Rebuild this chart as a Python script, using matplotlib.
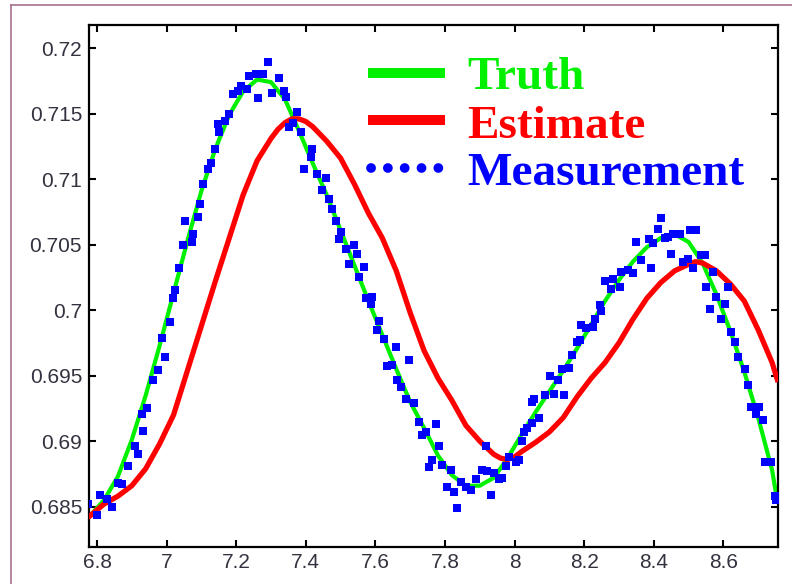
import matplotlib
matplotlib.use("Agg")
import matplotlib.pyplot as plt
from matplotlib.lines import Line2D

# ---- data ----
truth_x = [6.78, 6.82, 6.86, 6.90, 6.94, 6.98, 7.02, 7.06, 7.10, 7.14,
           7.18, 7.22, 7.26, 7.30, 7.34, 7.38, 7.42, 7.46, 7.50, 7.54,
           7.58, 7.62, 7.66, 7.70, 7.74, 7.78, 7.82, 7.86, 7.90, 7.94,
           7.98, 8.02, 8.06, 8.10, 8.14, 8.18, 8.22, 8.26, 8.30, 8.34,
           8.38, 8.42, 8.46, 8.50, 8.54, 8.58, 8.62, 8.66, 8.70, 8.74, 8.755]
truth_y = [0.6843, 0.6855, 0.6873, 0.6901, 0.6935, 0.6973, 0.7013, 0.7053, 0.7091, 0.7123,
           0.7149, 0.7167, 0.7176, 0.7174, 0.7161, 0.7137, 0.7112, 0.7088, 0.7061, 0.7034,
           0.7007, 0.6981, 0.6955, 0.6930, 0.6910, 0.6889, 0.6874, 0.6866, 0.6866, 0.6872,
           0.6887, 0.6905, 0.6922, 0.6938, 0.6954, 0.6971, 0.6989, 0.7007, 0.7023, 0.7037,
           0.7048, 0.7055, 0.7058, 0.7052, 0.7036, 0.7012, 0.6984, 0.6953, 0.6918, 0.6878, 0.6854]

est_x = [6.78, 6.82, 6.86, 6.90, 6.94, 6.98, 7.02, 7.06, 7.10, 7.14,
         7.18, 7.22, 7.26, 7.30, 7.32, 7.34, 7.36, 7.38, 7.40, 7.42,
         7.46, 7.50, 7.54, 7.58, 7.62, 7.66, 7.70, 7.74, 7.78, 7.82,
         7.86, 7.90, 7.94, 7.96, 7.98, 8.00, 8.02, 8.06, 8.10, 8.14,
         8.18, 8.22, 8.26, 8.30, 8.34, 8.38, 8.42, 8.46, 8.50, 8.52,
         8.54, 8.58, 8.62, 8.66, 8.70, 8.74, 8.755]
est_y = [0.6843, 0.6852, 0.6858, 0.6866, 0.6879, 0.6898, 0.6920, 0.6954, 0.6988, 0.7022,
         0.7055, 0.7088, 0.7114, 0.7131, 0.7138, 0.7143, 0.7146, 0.7146, 0.7144, 0.7140,
         0.7129, 0.7116, 0.7096, 0.7074, 0.7055, 0.7030, 0.6998, 0.6969, 0.6948, 0.6931,
         0.6912, 0.6900, 0.6890, 0.6887, 0.6886, 0.6888, 0.6892, 0.6899, 0.6907, 0.6918,
         0.6934, 0.6948, 0.6960, 0.6975, 0.6993, 0.7009, 0.7021, 0.7030, 0.7035, 0.7037,
         0.7036, 0.7030, 0.7020, 0.7007, 0.6985, 0.6960, 0.6947]

meas_x = [6.774, 6.800, 6.809, 6.829, 6.843, 6.860, 6.872, 6.889, 6.909, 6.917,
          6.929, 6.932, 6.943, 6.960, 6.975, 6.986, 6.995, 7.009, 7.018, 7.023,
          7.037, 7.046, 7.052, 7.072, 7.075, 7.089, 7.095, 7.104, 7.118, 7.129,
          7.138, 7.147, 7.152, 7.167, 7.178, 7.190, 7.204, 7.215, 7.230, 7.238,
          7.258, 7.262, 7.276, 7.290, 7.304, 7.324, 7.338, 7.344, 7.353, 7.362,
          7.376, 7.387, 7.396, 7.415, 7.419, 7.433, 7.448, 7.459, 7.468, 7.476,
          7.487, 7.496, 7.501, 7.516, 7.525, 7.539, 7.548, 7.553, 7.568, 7.574,
          7.588, 7.591, 7.605, 7.611, 7.625, 7.634, 7.648, 7.660, 7.662, 7.674,
          7.688, 7.697, 7.711, 7.725, 7.734, 7.745, 7.754, 7.763, 7.774, 7.783,
          7.791, 7.807, 7.817, 7.826, 7.835, 7.845, 7.860, 7.874, 7.888, 7.906,
          7.917, 7.920, 7.931, 7.940, 7.955, 7.964, 7.975, 7.983, 8.003, 8.012,
          8.020, 8.026, 8.035, 8.049, 8.049, 8.055, 8.069, 8.086, 8.103, 8.112,
          8.126, 8.135, 8.141, 8.155, 8.164, 8.178, 8.189, 8.192, 8.206, 8.226,
          8.232, 8.246, 8.249, 8.261, 8.278, 8.284, 8.304, 8.307, 8.327, 8.341,
          8.350, 8.364, 8.385, 8.393, 8.399, 8.413, 8.422, 8.433, 8.441, 8.450,
          8.456, 8.476, 8.485, 8.499, 8.505, 8.513, 8.520, 8.536, 8.547, 8.551,
          8.562, 8.570, 8.579, 8.594, 8.605, 8.614, 8.622, 8.633, 8.642, 8.662,
          8.671, 8.680, 8.694, 8.703, 8.714, 8.720, 8.737, 8.748, 8.752]
meas_y = [0.6852, 0.6844, 0.6859, 0.6856, 0.6850, 0.6868, 0.6867, 0.6881, 0.6896, 0.6890,
          0.6921, 0.6908, 0.6925, 0.6947, 0.6954, 0.6979, 0.6964, 0.6991, 0.7009, 0.7015,
          0.7032, 0.7050, 0.7068, 0.7052, 0.7058, 0.7071, 0.7081, 0.7096, 0.7108, 0.7112,
          0.7123, 0.7142, 0.7136, 0.7144, 0.7150, 0.7165, 0.7167, 0.7171, 0.7169, 0.7179,
          0.7180, 0.7162, 0.7180, 0.7189, 0.7166, 0.7177, 0.7167, 0.7163, 0.7140, 0.7143,
          0.7151, 0.7136, 0.7108, 0.7117, 0.7123, 0.7104, 0.7092, 0.7101, 0.7085, 0.7077,
          0.7068, 0.7054, 0.7060, 0.7047, 0.7035, 0.7050, 0.7043, 0.7025, 0.7033, 0.7009,
          0.7005, 0.7010, 0.6985, 0.6992, 0.6978, 0.6957, 0.6958, 0.6972, 0.6947, 0.6941,
          0.6932, 0.6962, 0.6929, 0.6915, 0.6905, 0.6907, 0.6880, 0.6886, 0.6913, 0.6896,
          0.6882, 0.6865, 0.6878, 0.6861, 0.6849, 0.6869, 0.6865, 0.6863, 0.6871, 0.6878,
          0.6896, 0.6877, 0.6859, 0.6876, 0.6871, 0.6872, 0.6881, 0.6888, 0.6884, 0.6886,
          0.6900, 0.6907, 0.6910, 0.6914, 0.6930, 0.6932, 0.6918, 0.6935, 0.6950, 0.6936,
          0.6947, 0.6955, 0.6935, 0.6956, 0.6966, 0.6976, 0.6977, 0.6989, 0.6986, 0.6987,
          0.6993, 0.7004, 0.6999, 0.7022, 0.7016, 0.7024, 0.7018, 0.7029, 0.7031, 0.7028,
          0.7052, 0.7038, 0.7054, 0.7032, 0.7051, 0.7062, 0.7070, 0.7055, 0.7056, 0.7043,
          0.7058, 0.7058, 0.7037, 0.7039, 0.7061, 0.7032, 0.7061, 0.7042, 0.7042, 0.7018,
          0.7001, 0.7029, 0.7010, 0.6993, 0.7005, 0.7018, 0.6983, 0.6976, 0.6964, 0.6955,
          0.6943, 0.6926, 0.6921, 0.6926, 0.6916, 0.6884, 0.6884, 0.6858, 0.6855]

x_ticks = [6.8, 7.0, 7.2, 7.4, 7.6, 7.8, 8.0, 8.2, 8.4, 8.6]
x_tick_labels = ["6.8", "7", "7.2", "7.4", "7.6", "7.8", "8", "8.2", "8.4", "8.6"]
y_ticks = [0.685, 0.69, 0.695, 0.70, 0.705, 0.71, 0.715, 0.72]
y_tick_labels = ["0.685", "0.69", "0.695", "0.7", "0.705", "0.71", "0.715", "0.72"]

legend_labels = ["Truth", "Estimate", "Measurement"]

GREEN = "#00F000"
RED = "#FF0000"
BLUE = "#0000FF"
W, H = 792, 584

fig = plt.figure(figsize=(W / 100, H / 100), dpi=100)
fig.patch.set_facecolor("white")
ax = fig.add_axes([89 / W, 1 - 546.5 / H, (778 - 89) / W, (546.5 - 24.5) / H])

ax.plot(truth_x, truth_y, color=GREEN, lw=3.0, zorder=2)
ax.plot(est_x, est_y, color=RED, lw=3.8, zorder=3)
ax.plot(meas_x, meas_y, linestyle="none", marker="s", markersize=5.2,
        color=BLUE, markeredgewidth=0, zorder=4)

ax.set_xlim(6.777, 8.757)
ax.set_ylim(0.68196, 0.7218)
ax.set_xticks(x_ticks)
ax.set_xticklabels(x_tick_labels)
ax.set_yticks(y_ticks)
ax.set_yticklabels(y_tick_labels)

for s in ax.spines.values():
    s.set_linewidth(1.6)
    s.set_color("black")
ax.tick_params(direction="in", top=True, right=True, length=5, width=1.5,
               labelsize=15, labelcolor="#333340", pad=5)
for lab in ax.get_xticklabels() + ax.get_yticklabels():
    lab.set_fontfamily("Liberation Sans")

# hand-drawn legend as in the original
def fx(px):
    return px / W

def fy(py):
    return 1 - py / H

fig.add_artist(Line2D([fx(368), fx(445)], [fy(73), fy(73)], color=GREEN, lw=7.2,
                      solid_capstyle="butt"))
fig.add_artist(Line2D([fx(368), fx(445)], [fy(120), fy(120)], color=RED, lw=7.2,
                      solid_capstyle="butt"))
fig.add_artist(Line2D([fx(371), fx(440)], [fy(168), fy(168)], color=BLUE, lw=7.0,
                      linestyle=(0, (0.01, 1.72)), dash_capstyle="round"))

font = dict(family="Liberation Serif", weight="bold", size=34)
for label, color, base in zip(legend_labels, [GREEN, RED, BLUE], [89, 138, 185]):
    fig.text(fx(467), fy(base), label, color=color, va="baseline", ha="left", **font)

# outer page frame
frame = "#A8708F"
fig.add_artist(Line2D([fx(10.5), 1.0], [fy(5), fy(5)], color=frame, lw=1.2))
fig.add_artist(Line2D([fx(10.5), fx(10.5)], [0.0, fy(5)], color=frame, lw=1.2))

fig.savefig("out.png", dpi=100)
